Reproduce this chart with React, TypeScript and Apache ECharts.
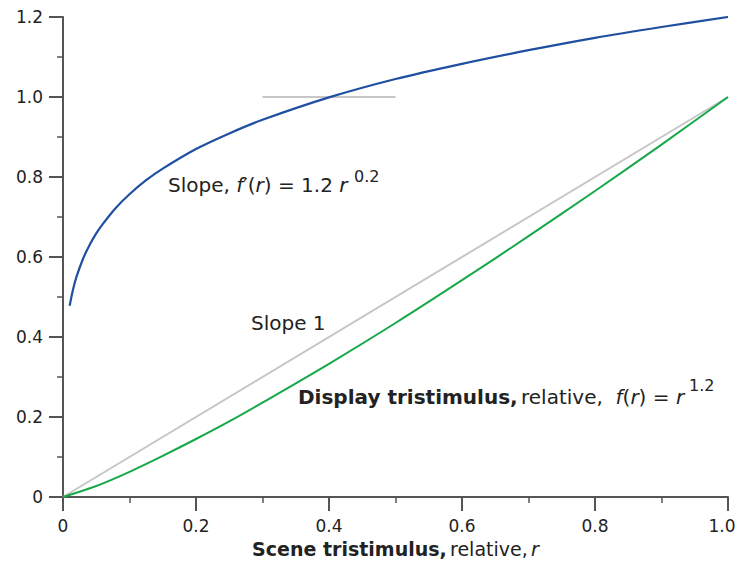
import React, { useEffect, useRef } from "react";
import * as echarts from "echarts";

// Scene tristimulus r (x) and read-off values
const slopeR = [0.01, 0.015, 0.02, 0.03, 0.04, 0.05, 0.06, 0.08, 0.1, 0.125, 0.15, 0.2, 0.25, 0.3, 0.4, 0.5, 0.6, 0.7, 0.8, 0.9, 1.0];
const slopeValues = [0.478, 0.518, 0.549, 0.595, 0.630, 0.659, 0.683, 0.724, 0.757, 0.792, 0.821, 0.870, 0.909, 0.943, 0.999, 1.045, 1.083, 1.117, 1.148, 1.175, 1.2];

const displayR = [0, 0.05, 0.1, 0.15, 0.2, 0.25, 0.3, 0.4, 0.5, 0.6, 0.7, 0.8, 0.9, 1.0];
const displayValues = [0, 0.0275, 0.063, 0.103, 0.145, 0.189, 0.236, 0.333, 0.435, 0.542, 0.652, 0.765, 0.881, 1.0];

const unitR = [0, 1];
const unitValues = [0, 1];

const refR = [0.3, 0.5];
const refValues = [1.0, 1.0];

const xTicks = [0, 0.2, 0.4, 0.6, 0.8, 1.0];
const yTicks = [0, 0.2, 0.4, 0.6, 0.8, 1.0, 1.2];

const FONT = "DejaVu Sans";
const TXT = "#222";

const zip = (a: number[], b: number[]) => a.map((v, i) => [v, b[i]]);
const fmt = (v: number) => (v === 0 ? "0" : v.toFixed(1));

export default function App() {
  const ref = useRef<HTMLDivElement>(null);
  useEffect(() => {
    const chart = echarts.init(ref.current!, null, { renderer: "svg" });
    const axisCommon = {
      type: "value" as const,
      interval: 0.2,
      splitLine: { show: false },
      axisLine: { show: true, onZero: false, lineStyle: { color: "#555", width: 2 } },
      axisTick: { show: true, length: 14, inside: false, lineStyle: { color: "#555", width: 2 } },
      minorTick: { show: true, splitNumber: 2, length: 6, lineStyle: { color: "#555", width: 1.5 } },
      axisLabel: { color: TXT, fontFamily: FONT, fontSize: 17, margin: 20, formatter: fmt },
    };
    const xMax = xTicks[xTicks.length - 1];
    chart.setOption({
      animation: false,
      backgroundColor: "#fff",
      grid: { left: 63, right: 9, top: 17, bottom: 71, containLabel: false, outerBoundsMode: "none" },
      xAxis: {
        ...axisCommon,
        min: xTicks[0],
        max: xMax,
        axisLabel: {
          ...axisCommon.axisLabel,
          formatter: (v: number) => (v === xMax ? "{e|" + fmt(v) + "}" : fmt(v)),
          rich: {
            e: { fontFamily: FONT, fontSize: 17, color: TXT, padding: [0, 12, 0, 0] },
          },
        },
        name: "{b|Scene tristimulus,} {n|relative,} {i|r}",
        nameLocation: "middle",
        nameGap: 42,
        nameTextStyle: {
          rich: {
            b: { fontFamily: FONT, fontSize: 19, fontWeight: "bold", color: TXT },
            n: { fontFamily: FONT, fontSize: 19, color: TXT },
            i: { fontFamily: FONT, fontSize: 19, fontStyle: "italic", color: TXT },
          },
        },
      },
      yAxis: {
        ...axisCommon,
        min: yTicks[0],
        max: yTicks[yTicks.length - 1],
      },
      series: [
        {
          type: "line",
          data: zip(unitR, unitValues),
          showSymbol: false,
          lineStyle: { color: "#c6c6c6", width: 2 },
          z: 1,
        },
        {
          type: "line",
          data: zip(refR, refValues),
          showSymbol: false,
          lineStyle: { color: "#c6c6c6", width: 2 },
          z: 1,
        },
        {
          type: "line",
          data: zip(displayR, displayValues),
          showSymbol: false,
          smooth: 0.3,
          lineStyle: { color: "#17a84a", width: 2 },
          z: 2,
        },
        {
          type: "line",
          data: zip(slopeR, slopeValues),
          showSymbol: false,
          smooth: 0.3,
          lineStyle: { color: "#1f4fa0", width: 2.2 },
          z: 3,
        },
      ],
      graphic: [
        {
          type: "text",
          style: {
            x: 168,
            y: 185,
            verticalAlign: "middle",
            text: "{a|Slope, }{i|f}{a|′(}{i|r}{a|) = 1.2 }{i|r}",
            rich: {
              a: { fontFamily: FONT, fontSize: 20, fill: TXT },
              i: { fontFamily: FONT, fontSize: 20, fontStyle: "italic", fill: TXT },
            },
          },
        },
        {
          type: "text",
          style: { x: 354, y: 176, verticalAlign: "middle", text: "0.2", fontFamily: FONT, fontSize: 16, fill: TXT },
        },
        {
          type: "text",
          style: { x: 251, y: 323, verticalAlign: "middle", text: "Slope 1", fontFamily: FONT, fontSize: 20, fill: TXT },
        },
        {
          type: "text",
          style: {
            x: 298,
            y: 397,
            verticalAlign: "middle",
            text: "{b|Display tristimulus,} {a|relative,  }{i|f}{a|(}{i|r}{a|) = }{i|r}",
            rich: {
              b: { fontFamily: FONT, fontSize: 20, fontWeight: "bold", fill: TXT },
              a: { fontFamily: FONT, fontSize: 20, fill: TXT },
              i: { fontFamily: FONT, fontSize: 20, fontStyle: "italic", fill: TXT },
            },
          },
        },
        {
          type: "text",
          style: { x: 689, y: 385, verticalAlign: "middle", text: "1.2", fontFamily: FONT, fontSize: 16, fill: TXT },
        },
      ],
    });
    return () => chart.dispose();
  }, []);
  return (
    <div
      ref={ref}
      style={{ position: "absolute", left: 0, top: 0, width: 737, height: 568 }}
    />
  );
}
